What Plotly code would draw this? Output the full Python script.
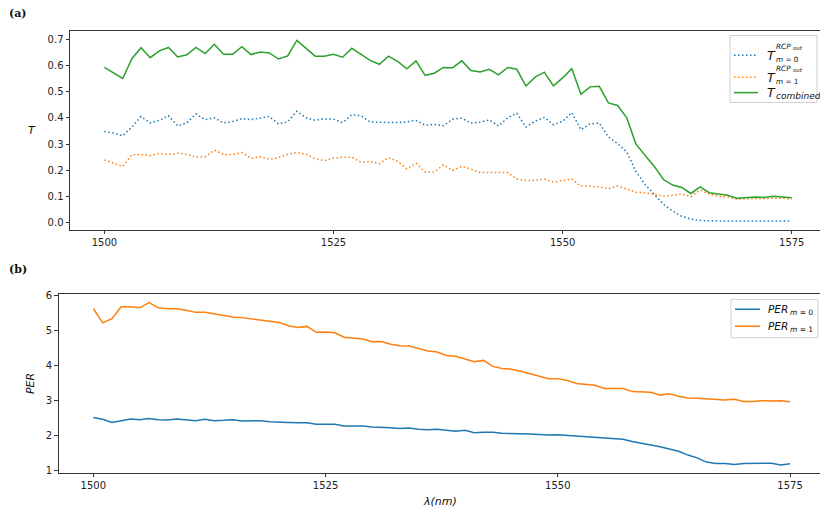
import plotly.graph_objects as go

# ---------------- data ----------------
wavelength = list(range(1500, 1576))

T_m0 = [0.348, 0.342, 0.332, 0.365, 0.405, 0.381, 0.390, 0.408, 0.369, 0.381,
        0.415, 0.393, 0.400, 0.381, 0.386, 0.397, 0.393, 0.400, 0.405, 0.377,
        0.385, 0.425, 0.400, 0.391, 0.396, 0.395, 0.382, 0.412, 0.408, 0.384,
        0.384, 0.382, 0.382, 0.385, 0.390, 0.372, 0.375, 0.370, 0.395, 0.399,
        0.380, 0.384, 0.392, 0.369, 0.400, 0.417, 0.365, 0.387, 0.402, 0.374,
        0.387, 0.420, 0.355, 0.377, 0.380, 0.327, 0.302, 0.270, 0.196, 0.146,
        0.109, 0.071, 0.045, 0.025, 0.014, 0.009, 0.008, 0.007, 0.007, 0.007,
        0.007, 0.007, 0.007, 0.007, 0.007, 0.007]

T_m1 = [0.240, 0.227, 0.215, 0.259, 0.261, 0.256, 0.265, 0.261, 0.265, 0.261,
        0.250, 0.252, 0.277, 0.261, 0.260, 0.268, 0.246, 0.252, 0.242, 0.249,
        0.261, 0.268, 0.262, 0.244, 0.237, 0.246, 0.250, 0.250, 0.231, 0.234,
        0.225, 0.249, 0.234, 0.206, 0.227, 0.194, 0.194, 0.221, 0.200, 0.215,
        0.205, 0.192, 0.192, 0.194, 0.192, 0.167, 0.161, 0.162, 0.167, 0.155,
        0.162, 0.167, 0.140, 0.140, 0.137, 0.130, 0.140, 0.127, 0.117, 0.115,
        0.109, 0.102, 0.105, 0.110, 0.100, 0.125, 0.109, 0.102, 0.099, 0.090,
        0.092, 0.092, 0.094, 0.092, 0.094, 0.090]

T_combined = [0.592, 0.571, 0.550, 0.625, 0.667, 0.629, 0.655, 0.668, 0.632, 0.640,
              0.668, 0.645, 0.680, 0.642, 0.642, 0.671, 0.641, 0.651, 0.647, 0.624,
              0.636, 0.695, 0.665, 0.635, 0.635, 0.642, 0.631, 0.665, 0.642, 0.619,
              0.604, 0.635, 0.615, 0.587, 0.617, 0.562, 0.570, 0.592, 0.591, 0.617,
              0.580, 0.575, 0.585, 0.564, 0.592, 0.585, 0.521, 0.555, 0.574, 0.522,
              0.552, 0.587, 0.490, 0.518, 0.520, 0.457, 0.447, 0.400, 0.300, 0.259,
              0.215, 0.165, 0.144, 0.135, 0.112, 0.137, 0.115, 0.110, 0.105, 0.094,
              0.096, 0.099, 0.097, 0.101, 0.099, 0.096]

PER_m0 = [2.52, 2.47, 2.38, 2.44, 2.48, 2.46, 2.49, 2.46, 2.45, 2.48,
          2.45, 2.43, 2.47, 2.43, 2.44, 2.46, 2.42, 2.43, 2.43, 2.40,
          2.40, 2.38, 2.37, 2.37, 2.33, 2.33, 2.33, 2.28, 2.29, 2.28,
          2.25, 2.25, 2.23, 2.21, 2.22, 2.19, 2.17, 2.19, 2.15, 2.13,
          2.16, 2.09, 2.10, 2.10, 2.07, 2.07, 2.07, 2.05, 2.04, 2.02,
          2.03, 2.01, 1.99, 1.97, 1.97, 1.94, 1.92, 1.90, 1.84, 1.80,
          1.74, 1.69, 1.63, 1.56, 1.45, 1.37, 1.25, 1.21, 1.21, 1.18,
          1.21, 1.21, 1.21, 1.22, 1.17, 1.20]

PER_m1 = [5.63, 5.22, 5.34, 5.68, 5.68, 5.65, 5.80, 5.65, 5.62, 5.62,
          5.58, 5.52, 5.52, 5.48, 5.42, 5.39, 5.37, 5.34, 5.31, 5.28,
          5.23, 5.14, 5.09, 5.12, 4.95, 4.96, 4.94, 4.81, 4.78, 4.76,
          4.68, 4.69, 4.61, 4.57, 4.56, 4.49, 4.42, 4.39, 4.29, 4.27,
          4.20, 4.11, 4.15, 3.98, 3.92, 3.90, 3.84, 3.77, 3.69, 3.63,
          3.63, 3.58, 3.49, 3.47, 3.44, 3.35, 3.34, 3.35, 3.26, 3.24,
          3.24, 3.16, 3.20, 3.13, 3.08, 3.07, 3.05, 3.04, 3.02, 3.04,
          2.98, 2.98, 3.00, 2.99, 3.00, 2.97]

x_ticks = [1500, 1525, 1550, 1575]
T_ticks = [0.0, 0.1, 0.2, 0.3, 0.4, 0.5, 0.6, 0.7]
PER_ticks = [1, 2, 3, 4, 5, 6]

# ---------------- styling ----------------
W, H = 820, 518
BLUE, ORANGE, GREEN = "#1f77b4", "#ff7f0e", "#2ca02c"
FONT = "DejaVu Sans"
DOT = "1.5px,2.5px"


def px(x):
    return x / W


def py(y):
    return 1 - y / H


fig = go.Figure()

fig.add_trace(go.Scatter(x=wavelength, y=T_m0, mode="lines", xaxis="x", yaxis="y",
                         line=dict(color=BLUE, width=1.5, dash=DOT), showlegend=False))
fig.add_trace(go.Scatter(x=wavelength, y=T_m1, mode="lines", xaxis="x", yaxis="y",
                         line=dict(color=ORANGE, width=1.5, dash=DOT), showlegend=False))
fig.add_trace(go.Scatter(x=wavelength, y=T_combined, mode="lines", xaxis="x", yaxis="y",
                         line=dict(color=GREEN, width=1.5), showlegend=False))
fig.add_trace(go.Scatter(x=wavelength, y=PER_m0, mode="lines", xaxis="x2", yaxis="y2",
                         line=dict(color=BLUE, width=1.5), showlegend=False))
fig.add_trace(go.Scatter(x=wavelength, y=PER_m1, mode="lines", xaxis="x2", yaxis="y2",
                         line=dict(color=ORANGE, width=1.5), showlegend=False))

axis_common = dict(showgrid=False, zeroline=False, showline=True, linecolor="#333",
                   linewidth=1, ticks="outside", ticklen=3.5, tickwidth=0.8,
                   tickcolor="#333", tickfont=dict(family=FONT, size=10, color="#222"))

fig.update_layout(
    xaxis=dict(domain=[px(70), 1], range=[1496.25, 1496.25 + 750 / 9.165],
               tickvals=x_ticks, mirror=True, anchor="y", **axis_common),
    yaxis=dict(domain=[py(229.3), py(27.7)], range=[-0.0262, 0.7297],
               tickvals=T_ticks, tickformat=".1f", anchor="x", **axis_common),
    xaxis2=dict(domain=[px(58.5), 1], range=[1496.25, 1496.25 + 761.5 / 9.29],
                tickvals=x_ticks, mirror=True, anchor="y2", **axis_common),
    yaxis2=dict(domain=[py(476), py(295)], range=[0.949, 6.031],
                tickvals=PER_ticks, anchor="x2", **axis_common),
)

annotations = []


def label(text, x, y, size, xanchor="center", yanchor="middle", angle=0, family=FONT, color="#111"):
    annotations.append(dict(text=text, x=px(x), y=py(y), xref="paper", yref="paper",
                            showarrow=False, xanchor=xanchor, yanchor=yanchor,
                            textangle=angle, borderpad=0,
                            font=dict(family=family, size=size, color=color)))


# panel labels
label("<b>(a)</b>", 8, 10, 11, xanchor="left", family="DejaVu Serif")
label("<b>(b)</b>", 8, 270, 11, xanchor="left", family="DejaVu Serif")

# axis titles
label("<i>T</i>", 32, 128, 11)
label("<i>PER</i>", 30, 385, 11, angle=-90)
label("<i>λ(nm)</i>", 440, 505, 11)

shapes = []

# legend (a)
shapes.append(dict(type="rect", xref="paper", yref="paper", x0=px(730), x1=px(817),
                   y0=py(100), y1=py(32), line=dict(color="#d0d0d0", width=1),
                   fillcolor="rgba(255,255,255,0.85)", layer="above"))
for yy, col, dash in [(52, BLUE, DOT), (74.5, ORANGE, DOT), (90, GREEN, "solid")]:
    shapes.append(dict(type="line", xref="paper", yref="paper", x0=px(734), x1=px(758),
                       y0=py(yy), y1=py(yy), line=dict(color=col, width=1.5, dash=dash),
                       layer="above"))
for yy, m in [(52, "0"), (74.5, "1")]:
    label("<i>T</i>", 766, yy + 0.5, 12.5, xanchor="left")
    label("<i>RCP</i>", 774.5, yy - 9, 7.3, xanchor="left")
    label("<i>out</i>", 791.5, yy - 7, 5.5, xanchor="left")
    label("<i>m</i> = " + m, 774.5, yy + 4.5, 7.3, xanchor="left")
label("<i>T</i>", 766, 90, 12.5, xanchor="left")
label("<i>combined</i>", 774.5, 93, 9, xanchor="left")

# legend (b)
shapes.append(dict(type="rect", xref="paper", yref="paper", x0=px(731), x1=px(818),
                   y0=py(339), y1=py(300), line=dict(color="#d0d0d0", width=1),
                   fillcolor="rgba(255,255,255,0.85)", layer="above"))
for yy, col, m in [(310, BLUE, "0"), (327.3, ORANGE, "1")]:
    shapes.append(dict(type="line", xref="paper", yref="paper", x0=px(735), x1=px(760),
                       y0=py(yy), y1=py(yy), line=dict(color=col, width=1.5), layer="above"))
    label("<i>PER</i>", 767, yy, 10.5, xanchor="left")
    label("<i>m</i> = " + m, 789, yy + 3, 7.5, xanchor="left")

fig.update_layout(
    width=W, height=H, margin=dict(l=0, r=0, t=0, b=0),
    paper_bgcolor="white", plot_bgcolor="white",
    annotations=annotations, shapes=shapes, showlegend=False,
    font=dict(family=FONT),
)

fig.write_html("out.html")
